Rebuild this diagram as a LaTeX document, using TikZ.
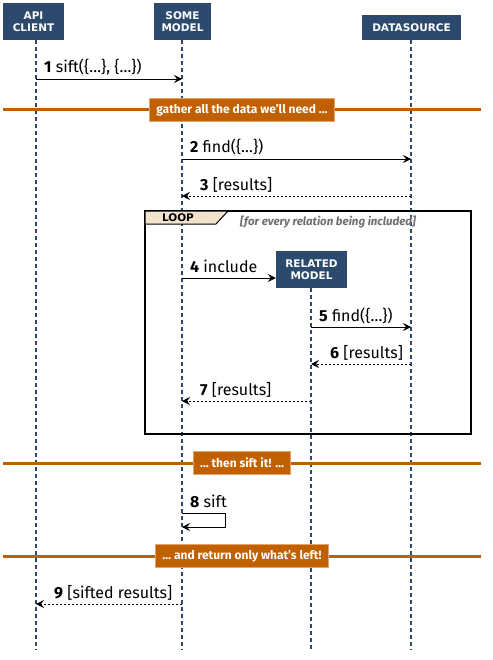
\documentclass[tikz,border=0pt]{standalone}
\usepackage{fontspec}
\setmainfont{Fira Sans}
\newfontfamily\headfont{DejaVu Sans}
\usetikzlibrary{arrows.meta}

\definecolor{navy}{HTML}{2C4A6E}
\definecolor{rust}{HTML}{C06000}
\definecolor{rustedge}{HTML}{E4A468}
\definecolor{tabtan}{HTML}{F2E4CC}
\definecolor{guardgray}{HTML}{6E6E6E}

\tikzset{
  actor/.style = {fill = navy, text = white, align = center, inner sep = 0pt,
    font = \headfont\bfseries\fontsize{10.5}{12}\selectfont},
  lifeline/.style = {navy, line width = 1.6pt, dash pattern = on 4pt off 3pt},
  msg/.style = {line width = 0.9pt, -{Stealth[length = 8pt, width = 8pt, inset = 3pt]}},
  reply/.style = {msg, dash pattern = on 2.5pt off 1.5pt},
  msglabel/.style = {anchor = base west, inner sep = 0pt, font = \fontsize{16}{18}\selectfont},
  divider/.style = {fill = rust, draw = rustedge, line width = 1pt, text = white,
    minimum height = 23pt, inner xsep = 7pt, font = \bfseries\fontsize{12}{14}\selectfont},
  divline/.style = {rust, line width = 3pt}
}

\begin{document}
\begin{tikzpicture}[x = 1pt, y = -1pt]

      \useasboundingbox (0, 0) rectangle (492, 660);

      % participants
      \node[actor, minimum width = 61pt, minimum height = 37pt] (client) at (33.5, 21.5) {API\\CLIENT};
      \node[actor, minimum width = 57pt, minimum height = 37pt] (model) at (182.5, 21.5) {SOME\\MODEL};
      \node[actor, minimum width = 99pt, minimum height = 25pt] (source) at (411.5, 27.5) {DATASOURCE};

      \coordinate (clientend) at (36, 650);
      \coordinate (modelend) at (182, 650);
      \coordinate (sourceend) at (411, 650);
      \draw[lifeline] (client.south -| clientend) -- (clientend);
      \draw[lifeline] (model.south -| modelend) -- (modelend);
      \draw[lifeline] (source.south -| sourceend) -- (sourceend);

      % loop frame
      \draw[line width = 1.3pt] (145, 211) rectangle (471, 434);
      \draw[line width = 1pt, fill = tabtan] (145, 211) -- (228, 211) -- (216, 224) -- (145, 224) -- cycle;
      \node[font = \headfont\bfseries\fontsize{10.5}{12}\selectfont, inner sep = 0pt] (looptag) at (178, 217.5) {LOOP};
      \node[font = \itshape\bfseries\fontsize{11.5}{13}\selectfont, text = guardgray, anchor = base west, inner sep = 0pt]
        (guard) at (240, 225) {[for every relation being included]};

      \node[actor, minimum width = 71pt, minimum height = 37pt] (related) at (311.5, 269.5) {RELATED\\MODEL};
      \coordinate (relatedend) at (311, 650);
      \draw[lifeline] (related.south -| relatedend) -- (relatedend);

      % dividers
      \draw[divline] (3, 110) -- (481, 110);
      \node[divider] (gather) at (242, 110) {gather all the data we'll need …};
      \draw[divline] (3, 463) -- (481, 463);
      \node[divider] (thensift) at (242, 463) {… then sift it! …};
      \draw[divline] (3, 556) -- (481, 556);
      \node[divider] (giveback) at (242, 556) {… and return only what's left!};

      % messages
      \coordinate (c1) at (36, 79);   \coordinate (m1) at (182, 79);
      \coordinate (m2) at (182, 159); \coordinate (s2) at (411, 159);
      \coordinate (s3) at (411, 196); \coordinate (m3) at (182, 196);
      \coordinate (m4) at (182, 278);
      \coordinate (r5) at (311, 327); \coordinate (s5) at (411, 327);
      \coordinate (s6) at (411, 364); \coordinate (r6) at (311, 364);
      \coordinate (r7) at (311, 401); \coordinate (m7) at (182, 401);
      \coordinate (m8) at (182, 513); \coordinate (m8b) at (182, 527);
      \coordinate (m9) at (182, 604); \coordinate (c9) at (36, 604);

      \draw[msg] (c1) -- (m1);
      \node[msglabel] (l1) at (44, 73) {\textbf{1} sift(\{…\}, \{…\})};
      \draw[msg] (m2) -- (s2);
      \node[msglabel] (l2) at (190, 153) {\textbf{2} find(\{…\})};
      \draw[reply] (s3) -- (m3);
      \node[msglabel] (l3) at (200, 190) {\textbf{3} [results]};
      \draw[msg] (m4) -- (m4 -| related.west);
      \node[msglabel] (l4) at (190, 272) {\textbf{4} include};
      \draw[msg] (r5) -- (s5);
      \node[msglabel] (l5) at (319, 321) {\textbf{5} find(\{…\})};
      \draw[reply] (s6) -- (r6);
      \node[msglabel] (l6) at (330, 358) {\textbf{6} [results]};
      \draw[reply] (r7) -- (m7);
      \node[msglabel] (l7) at (200, 395) {\textbf{7} [results]};
      \draw[msg] (m8) -- ++(43, 0) |- (m8b);
      \node[msglabel] (l8) at (190, 507) {\textbf{8} sift};
      \draw[reply] (m9) -- (c9);
      \node[msglabel] (l9) at (54, 598) {\textbf{9} [sifted results]};

    \end{tikzpicture}
\end{document}
